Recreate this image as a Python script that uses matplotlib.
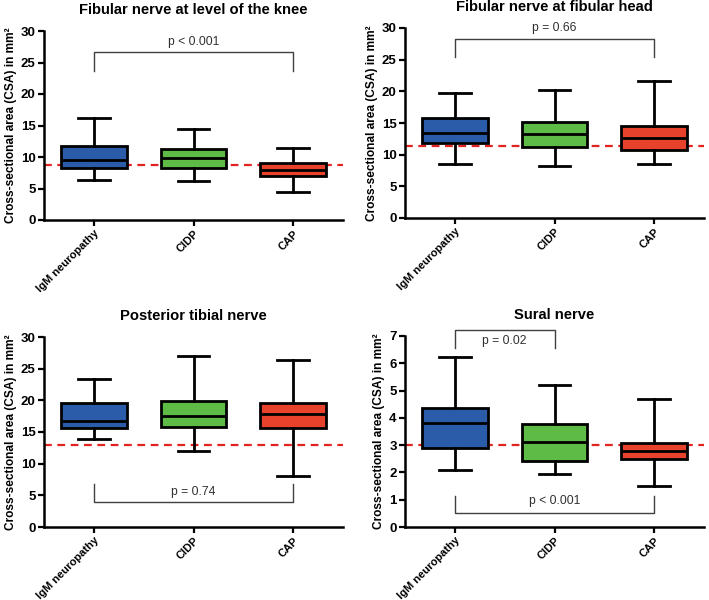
import matplotlib
matplotlib.use("Agg")
import matplotlib.pyplot as plt

plt.rcParams['font.family'] = ['Liberation Sans', 'DejaVu Sans']

groups = ["IgM neuropathy", "CIDP", "CAP"]
colors = ["#2A5CAA", "#5DBB46", "#E8412C"]

titles = ["Fibular nerve at level of the knee", "Fibular nerve at fibular head",
          "Posterior tibial nerve", "Sural nerve"]

# per panel: whisker low, Q1, median, Q3, whisker high (per group)
knee_low = [6.3, 6.2, 4.4]
knee_q1 = [8.2, 8.2, 7.0]
knee_med = [9.5, 9.8, 8.0]
knee_q3 = [11.8, 11.3, 9.0]
knee_high = [16.2, 14.5, 11.5]

head_low = [8.6, 8.2, 8.6]
head_q1 = [11.8, 11.2, 10.7]
head_med = [13.5, 13.2, 12.7]
head_q3 = [15.8, 15.2, 14.5]
head_high = [19.8, 20.2, 21.6]

tib_low = [13.9, 12.0, 8.0]
tib_q1 = [15.6, 15.8, 15.7]
tib_med = [16.7, 17.5, 17.8]
tib_q3 = [19.6, 19.9, 19.6]
tib_high = [23.4, 27.0, 26.3]

sur_low = [2.1, 1.93, 1.5]
sur_q1 = [2.91, 2.41, 2.5]
sur_med = [3.82, 3.1, 2.77]
sur_q3 = [4.37, 3.77, 3.08]
sur_high = [6.22, 5.21, 4.69]

ref_lines = [8.8, 11.4, 13.0, 3.0]
ymaxs = [30, 30, 30, 7]
ysteps = [5, 5, 5, 1]

# brackets: (group i, group j, bar y, end y, label, label y)
brackets = [
    [(0, 2, 26.6, 23.7, "p < 0.001", 28.3)],
    [(0, 2, 28.2, 25.5, "p = 0.66", 30.0)],
    [(0, 2, 3.9, 6.8, "p = 0.74", 5.5)],
    [(0, 1, 7.22, 6.57, "p = 0.02", 6.82), (0, 2, 0.53, 1.14, "p < 0.001", 0.94)],
]

panels = [
    (knee_low, knee_q1, knee_med, knee_q3, knee_high),
    (head_low, head_q1, head_med, head_q3, head_high),
    (tib_low, tib_q1, tib_med, tib_q3, tib_high),
    (sur_low, sur_q1, sur_med, sur_q3, sur_high),
]

W, H = 709, 600
# axes in pixel coords: left, right, top(ymax), bottom(y0)
boxes_px = [(44, 343, 31, 220), (405, 704, 28, 218), (44, 343, 337, 527), (405, 704, 336, 527)]

fig = plt.figure(figsize=(W / 100, H / 100), dpi=100)

for k in range(4):
    l, r, t, b = boxes_px[k]
    ax = fig.add_axes([l / W, 1 - b / H, (r - l) / W, (b - t) / H])
    lo, q1, med, q3, hi = panels[k]
    stats = []
    for i in range(3):
        stats.append(dict(whislo=lo[i], q1=q1[i], med=med[i], q3=q3[i], whishi=hi[i],
                          fliers=[], label=groups[i]))
    bp = ax.bxp(stats, positions=range(3), widths=0.66, patch_artist=True,
                showfliers=False,
                boxprops=dict(linewidth=2.0, edgecolor="black"),
                medianprops=dict(color="black", linewidth=2.0),
                whiskerprops=dict(color="black", linewidth=2.0),
                capprops=dict(color="black", linewidth=2.0),
                capwidths=0.32, zorder=3)
    for patch, c in zip(bp["boxes"], colors):
        patch.set_facecolor(c)
    ax.axhline(ref_lines[k], color="#E32222", linestyle=(0, (3.5, 2.5)), linewidth=1.6, zorder=1)
    ax.set_xlim(-0.5, 2.5)
    ax.set_ylim(0, ymaxs[k])
    ax.set_yticks([v * ysteps[k] for v in range(int(ymaxs[k] / ysteps[k]) + 1)])
    ax.set_xticks(range(3))
    ax.set_xticklabels(groups, rotation=45, ha="right", rotation_mode="anchor",
                       fontsize=8, fontweight="bold")
    for lab in ax.get_yticklabels():
        lab.set_fontweight("bold")
        lab.set_fontsize(9.5)
    for s in ["top", "right"]:
        ax.spines[s].set_visible(False)
    for s in ["left", "bottom"]:
        ax.spines[s].set_linewidth(1.8)
    ax.tick_params(axis="both", direction="out", length=4, width=1.6, pad=2)
    ax.set_ylabel("Cross-sectional area (CSA) in mm²", fontsize=8.6, fontweight="bold", labelpad=3)
    ax.set_title(titles[k], fontsize=10.6, fontweight="bold", pad=12)
    for (i, j, yb, ye, txt, ty) in brackets[k]:
        ax.plot([i, i, j, j], [ye, yb, yb, ye], color="#404040", linewidth=1.0, clip_on=False, zorder=4)
        ax.text((i + j) / 2, ty, txt, ha="center", va="center", fontsize=8.7, color="#303030", clip_on=False)

fig.savefig("out.png", dpi=100)
